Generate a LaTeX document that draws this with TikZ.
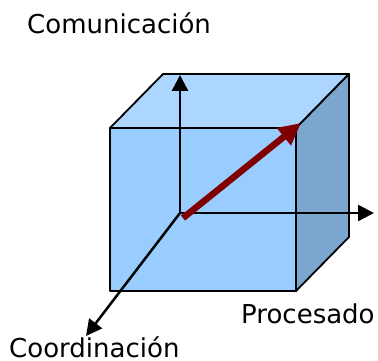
\documentclass[tikz,border=0pt]{standalone}
\usepackage{fontspec}
\setmainfont{DejaVu Sans}
\usetikzlibrary{arrows.meta}
\definecolor{frontblue}{HTML}{99CCFF}
\definecolor{topblue}{HTML}{ACD6FF}
\definecolor{sideblue}{HTML}{7BA7CF}
\definecolor{vecred}{HTML}{800000}

\begin{document}
\begin{tikzpicture}[
    x=1pt, y=-1pt,
    face/.style={draw=black, line width=1.8pt, line join=round},
    axis/.style={-{Triangle[length=16pt, width=16pt]}, line width=2.5pt, black},
    vector/.style={-{Triangle[length=22pt, width=21pt]}, line width=6.5pt, vecred},
    axislabel/.style={font=\fontsize{26}{30}\selectfont, inner sep=0pt, text depth=0pt, anchor=base west}
  ]
  \useasboundingbox (0,0) rectangle (378,361);

  % Cube corners
  \coordinate (ftl) at (110,128);
  \coordinate (ftr) at (296,128);
  \coordinate (fbr) at (296,291);
  \coordinate (fbl) at (110,291);
  \coordinate (btl) at (163,74);
  \coordinate (btr) at (349,74);
  \coordinate (bbr) at (349,237);

  % Faces
  \draw[face, fill=topblue] (ftl) -- (btl) -- (btr) -- (ftr) -- cycle;
  \draw[face, fill=sideblue] (ftr) -- (btr) -- (bbr) -- (fbr) -- cycle;
  \draw[face, fill=frontblue] (ftl) -- (ftr) -- (fbr) -- (fbl) -- cycle;

  % Axes
  \coordinate (origin) at (180,213);
  \coordinate (comtip) at (180,75);
  \coordinate (protip) at (374,213);
  \coordinate (coortip) at (86,336);
  \draw[axis] (origin) -- (comtip);
  \draw[axis] (origin) -- (protip);
  \draw[axis] (origin) -- (coortip);

  % Resulting vector
  \coordinate (vstart) at (183,218);
  \coordinate (vend) at (301,123);
  \draw[vector] (vstart) -- (vend);

  % Labels
  \node[axislabel] (com) at (27,34) {Comunicación};
  \node[axislabel] (pro) at (241,323) {Procesado};
  \node[axislabel] (coor) at (9,357) {Coordinación};
\end{tikzpicture}
\end{document}
